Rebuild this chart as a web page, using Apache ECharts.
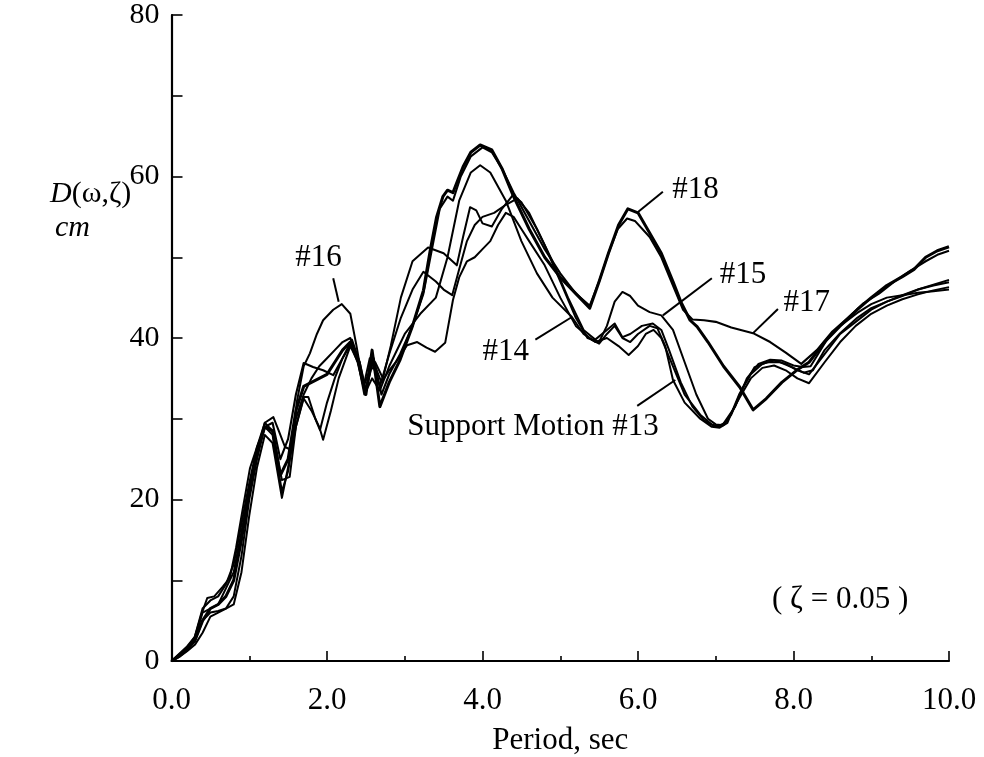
<!DOCTYPE html>
<html>
<head>
<meta charset="utf-8">
<script src="https://cdn.jsdelivr.net/npm/echarts@6/dist/echarts.min.js"></script>
<style>
  html, body { margin: 0; padding: 0; background: #fff; overflow: hidden; }
  #chart { width: 984px; height: 757px; }
</style>
</head>
<body>
<div id="chart"></div>
<script>
// Displacement response spectra D(ω,ζ), cm, versus period, sec — [period, displacement]
const motion13 = [[0,0],[0.1,0.8],[0.2,1.5],[0.3,2.5],[0.4,5],[0.5,6],[0.6,6.2],[0.7,6.5],[0.8,8],[0.9,13],[1.0,20],[1.1,25],[1.2,29],[1.3,28],[1.42,21],[1.5,23.5],[1.6,30],[1.7,33],[1.8,35],[1.9,36.5],[2.0,37.5],[2.1,38.5],[2.2,39.5],[2.3,40],[2.4,37],[2.47,34],[2.55,36],[2.62,36.5],[2.7,34.5],[2.8,36],[2.9,37.2],[3.03,39.1],[3.16,39.5],[3.28,38.8],[3.39,38.3],[3.52,39.4],[3.62,44.7],[3.7,47.5],[3.8,49.5],[3.9,50],[4.0,51],[4.1,52],[4.2,54],[4.3,55.5],[4.4,55],[4.5,53.5],[4.6,52],[4.8,49],[5.0,45],[5.2,41.5],[5.4,39.8],[5.5,39.3],[5.6,40.5],[5.7,41.5],[5.8,40],[5.9,39.5],[6.0,40.5],[6.15,41.5],[6.25,41.2],[6.35,39],[6.45,34.8],[6.6,32],[6.8,30],[6.95,29],[7.05,28.9],[7.15,29.5],[7.3,33],[7.45,35.5],[7.6,36.8],[7.75,37.2],[7.9,36.8],[8.05,36],[8.2,35.5],[8.4,38],[8.6,40.5],[8.8,42],[9.0,43.5],[9.2,44.5],[9.4,45.3],[9.6,46],[9.8,46.6],[10,47.2]];
const motion14 = [[0,0],[0.1,0.5],[0.2,1.2],[0.3,2],[0.4,3.5],[0.5,5.5],[0.6,6],[0.7,6.5],[0.8,7],[0.9,11],[1.0,18],[1.1,24],[1.2,28],[1.3,27],[1.42,20.2],[1.5,24],[1.6,29],[1.7,32.5],[1.8,31],[1.9,29],[1.95,27.4],[2.05,31],[2.15,35],[2.3,39],[2.4,37],[2.48,33],[2.58,35],[2.68,33.5],[2.8,36.5],[3.0,40.5],[3.2,43],[3.4,45],[3.55,50],[3.7,57],[3.85,60.5],[3.97,61.4],[4.1,60.5],[4.3,57],[4.5,52],[4.7,48],[4.9,45],[5.15,42.6],[5.3,40.5],[5.45,39.5],[5.6,40],[5.75,39],[5.88,37.9],[6.0,39],[6.1,40.5],[6.2,41],[6.3,40],[6.45,36.5],[6.6,33],[6.8,30.5],[6.95,29.3],[7.05,29],[7.15,29.8],[7.3,32.5],[7.45,35],[7.6,36.3],[7.75,36.6],[7.9,36],[8.05,35],[8.2,34.4],[8.4,37],[8.6,39.5],[8.8,41.5],[9.0,43],[9.2,44],[9.4,44.8],[9.6,45.4],[9.8,45.9],[10,46.3]];
const motion15 = [[0,0],[0.1,0.7],[0.2,1.3],[0.3,2.8],[0.4,6],[0.5,6.5],[0.6,7],[0.7,9],[0.8,11],[0.9,16],[1.0,21],[1.1,26],[1.2,29.5],[1.3,28.5],[1.42,22.4],[1.52,22.8],[1.6,29],[1.7,32.7],[1.76,32.7],[1.85,30],[1.91,28.6],[2.0,32],[2.1,35],[2.2,37.5],[2.32,39.4],[2.42,37],[2.5,33.2],[2.58,37],[2.68,34],[2.8,38],[2.95,42.5],[3.1,46],[3.24,48.2],[3.4,47],[3.5,46],[3.61,45.3],[3.7,48.5],[3.8,52],[3.9,54],[4.0,55],[4.15,55.5],[4.3,56.5],[4.45,57.3],[4.6,55.5],[4.8,51.5],[5.0,47],[5.2,42.5],[5.35,40],[5.5,39.5],[5.6,41.5],[5.7,44.5],[5.8,45.7],[5.9,45.2],[6.0,44],[6.15,43.2],[6.3,42.8],[6.45,41],[6.6,37],[6.75,33],[6.9,30],[7.0,29.3],[7.1,29.2],[7.2,30.5],[7.35,33.9],[7.5,36.4],[7.66,37],[7.83,37],[8.0,36.3],[8.13,35.7],[8.25,36],[8.4,38.5],[8.6,40.6],[8.82,42.5],[9.0,43.7],[9.2,44.5],[9.4,45.2],[9.6,46],[9.8,46.5],[10,46.9]];
const motion16 = [[0,0],[0.1,0.9],[0.2,1.8],[0.3,3],[0.39,5.9],[0.46,7.8],[0.55,8],[0.66,9.2],[0.75,10.3],[0.83,14],[0.91,18.5],[1.01,23.9],[1.1,26.5],[1.2,29.5],[1.31,30.2],[1.38,28.5],[1.46,26.5],[1.55,26.1],[1.61,32],[1.7,36.5],[1.78,38.1],[1.87,40.5],[1.95,42.2],[2.08,43.5],[2.19,44.2],[2.3,43],[2.38,39],[2.47,34],[2.55,37.5],[2.62,37],[2.72,35],[2.82,39],[2.95,45],[3.1,49.5],[3.3,51.2],[3.5,50.5],[3.67,49],[3.75,52.5],[3.84,56.2],[3.92,55.8],[4.0,54.2],[4.12,53.8],[4.25,56],[4.39,57.7],[4.5,56.8],[4.7,53.5],[4.9,49.5],[5.1,45],[5.3,41],[5.45,39.8],[5.6,41],[5.7,41.8],[5.8,40.1],[5.9,40.5],[6.05,41.5],[6.19,41.8],[6.3,41],[6.4,38.5],[6.55,34.5],[6.7,31.5],[6.85,29.8],[7.0,29],[7.1,29.4],[7.25,31.5],[7.4,35],[7.55,36.8],[7.7,37.3],[7.85,37.2],[8.0,36.6],[8.12,36.4],[8.22,36.5],[8.43,39.8],[8.6,41.5],[8.82,43.1],[9.0,44.2],[9.2,45],[9.4,45.3],[9.6,45.6],[9.8,45.8],[10,46]];
const motion17 = [[0,0],[0.1,0.8],[0.2,1.6],[0.3,3],[0.4,6.5],[0.5,7.5],[0.6,8],[0.7,9.5],[0.8,12],[0.9,17],[1.0,22],[1.1,26.5],[1.2,29],[1.3,29.5],[1.4,25],[1.5,27.5],[1.6,33],[1.7,36.9],[1.82,36.4],[1.95,36],[2.08,35.4],[2.2,37.5],[2.32,39.8],[2.42,37],[2.5,33.5],[2.6,37.5],[2.7,33],[2.8,35.5],[2.94,38],[3.1,41.5],[3.24,45.5],[3.35,51],[3.45,56],[3.55,57.5],[3.62,57],[3.72,60],[3.85,62.5],[4.0,63.6],[4.12,63],[4.25,61],[4.4,58],[4.6,54.5],[4.8,51],[5.0,48],[5.2,45.5],[5.38,44],[5.5,47],[5.62,50.5],[5.74,53.5],[5.86,54.8],[5.96,54.5],[6.15,52.5],[6.3,50],[6.45,46.5],[6.58,43.5],[6.7,42.3],[6.85,42.2],[7.0,42],[7.2,41.3],[7.48,40.6],[7.7,39.5],[7.9,38.2],[8.1,36.8],[8.3,38.5],[8.5,40.8],[8.7,42.5],[8.9,44.3],[9.1,45.5],[9.3,47],[9.5,48.3],[9.7,49.5],[9.85,50.3],[10,50.8]];
const motion18 = [[0,0],[0.1,0.6],[0.2,1.4],[0.3,2.5],[0.4,5],[0.5,6.5],[0.6,7],[0.7,8],[0.8,10],[0.9,15],[1.0,21],[1.1,26],[1.2,29],[1.3,28.5],[1.4,23],[1.5,25],[1.6,31],[1.7,34],[1.8,34.5],[1.9,35],[2.0,35.5],[2.1,37],[2.2,38.5],[2.3,39.5],[2.4,37],[2.5,33],[2.58,38.5],[2.68,31.5],[2.8,34.5],[2.94,37.3],[3.1,41.5],[3.24,45.9],[3.33,51],[3.41,55],[3.49,57.5],[3.55,58.3],[3.62,58],[3.68,59.5],[3.75,61.2],[3.85,63],[3.97,63.9],[4.12,63.3],[4.25,61],[4.4,57.5],[4.6,53.5],[4.8,50],[5.0,47.5],[5.2,45.5],[5.38,43.7],[5.5,47],[5.62,50.5],[5.75,54],[5.87,56],[6.0,55.5],[6.15,53],[6.3,50.5],[6.45,47],[6.55,44.5],[6.67,42.2],[6.76,41.4],[6.9,39.5],[7.1,36.5],[7.31,33.9],[7.48,31.1],[7.65,32.5],[7.85,34.5],[8.04,36],[8.2,37],[8.4,39.5],[8.6,41.5],[8.82,43.5],[9.0,45],[9.2,46.5],[9.4,47.6],[9.55,48.5],[9.7,50],[9.85,50.8],[10,51.3]];

// Callout labels: text anchor and leader line ends, in axis units
const calloutText  = ['#16', '#18', '#15', '#17', '#14', 'Support Motion #13'];
const calloutAt    = [[1.89,49.9],[6.74,58.4],[7.35,47.8],[8.17,44.3],[4.30,38.3],[4.65,29.0]];
const leaderFrom   = [[2.08,47.4],[6.32,58.1],[6.95,47.4],[7.80,43.6],[4.68,39.8],[5.99,31.6]];
const leaderTo     = [[2.15,44.5],[6.00,55.6],[6.32,42.8],[7.48,40.6],[5.15,42.6],[6.48,34.8]];
const dampingNote  = { text: '( ζ = 0.05 )', at: [8.6, 7.55] };

// Axis ticks
const xTicks = { min: 0, max: 10, step: 2 };
const yTicks = { min: 0, max: 80, step: 10, labelEvery: 20 };

const SERIF = "'Liberation Serif', 'Times New Roman', serif";
const INK = '#000';

const curves = [
  { name: '#13', data: motion13, width: 2 },
  { name: '#14', data: motion14, width: 2 },
  { name: '#15', data: motion15, width: 2 },
  { name: '#16', data: motion16, width: 2 },
  { name: '#17', data: motion17, width: 2.1 },
  { name: '#18', data: motion18, width: 3 }
];

const series = curves.map(c => ({
  name: c.name, type: 'line', data: c.data,
  showSymbol: false, symbol: 'none', silent: true,
  lineStyle: { color: INK, width: c.width, join: 'round' }, z: 3
}));
calloutText.forEach((t, i) => {
  series.push({
    type: 'line', data: [leaderFrom[i], leaderTo[i]], symbol: 'none', silent: true,
    lineStyle: { color: INK, width: 2 }, z: 4
  });
});

const chart = echarts.init(document.getElementById('chart'), null, { renderer: 'canvas' });
chart.setOption({
  backgroundColor: '#fff',
  animation: false,
  grid: { left: 171.5, right: 35, top: 15, bottom: 96, containLabel: false, outerBoundsMode: 'none' },
  xAxis: {
    type: 'value', min: xTicks.min, max: xTicks.max, interval: xTicks.step,
    name: 'Period, sec', nameLocation: 'middle', nameGap: 64,
    nameTextStyle: { fontFamily: SERIF, fontSize: 31, color: INK },
    axisLine: { show: true, onZero: false, lineStyle: { color: INK, width: 2.2 } },
    axisTick: { show: true, inside: true, length: 10, lineStyle: { color: INK, width: 1.6 } },
    minorTick: { show: true, splitNumber: 2, length: 5, lineStyle: { color: INK, width: 1.6 } },
    splitLine: { show: false },
    axisLabel: { margin: 24, fontFamily: SERIF, fontSize: 31, color: INK, formatter: v => v.toFixed(1) }
  },
  yAxis: {
    type: 'value', min: yTicks.min, max: yTicks.max, interval: yTicks.step,
    axisLine: { show: true, onZero: false, lineStyle: { color: INK, width: 2.2 } },
    axisTick: { show: true, inside: true, length: 11, lineStyle: { color: INK, width: 1.6 } },
    splitLine: { show: false },
    axisLabel: { margin: 12, fontFamily: SERIF, fontSize: 30, color: INK,
      formatter: v => (v % yTicks.labelEvery === 0 ? String(v) : '') }
  },
  series: series
});

// Text callouts placed through the axis scales
const textEls = calloutText.map((t, i) => ({ text: t, at: calloutAt[i] })).concat([dampingNote]);
const graphics = textEls.map(el => {
  const p = chart.convertToPixel({ gridIndex: 0 }, el.at);
  return {
    type: 'text', x: p[0], y: p[1], silent: true, z: 10,
    style: { text: el.text, font: "31px 'Liberation Serif', serif", fill: INK, align: 'center', verticalAlign: 'middle' }
  };
});
graphics.push(
  { type: 'text', left: 50, top: 179, z: 10,
    style: { text: '{i|D}(ω,ζ)', rich: { i: { fontStyle: 'italic', fontFamily: SERIF, fontSize: 30 } },
      font: "30px 'Liberation Serif', serif", fill: INK } },
  { type: 'text', left: 55, top: 213, z: 10,
    style: { text: 'cm', font: "italic 30px 'Liberation Serif', serif", fill: INK } }
);
chart.setOption({ graphic: graphics });
</script>
</body>
</html>
